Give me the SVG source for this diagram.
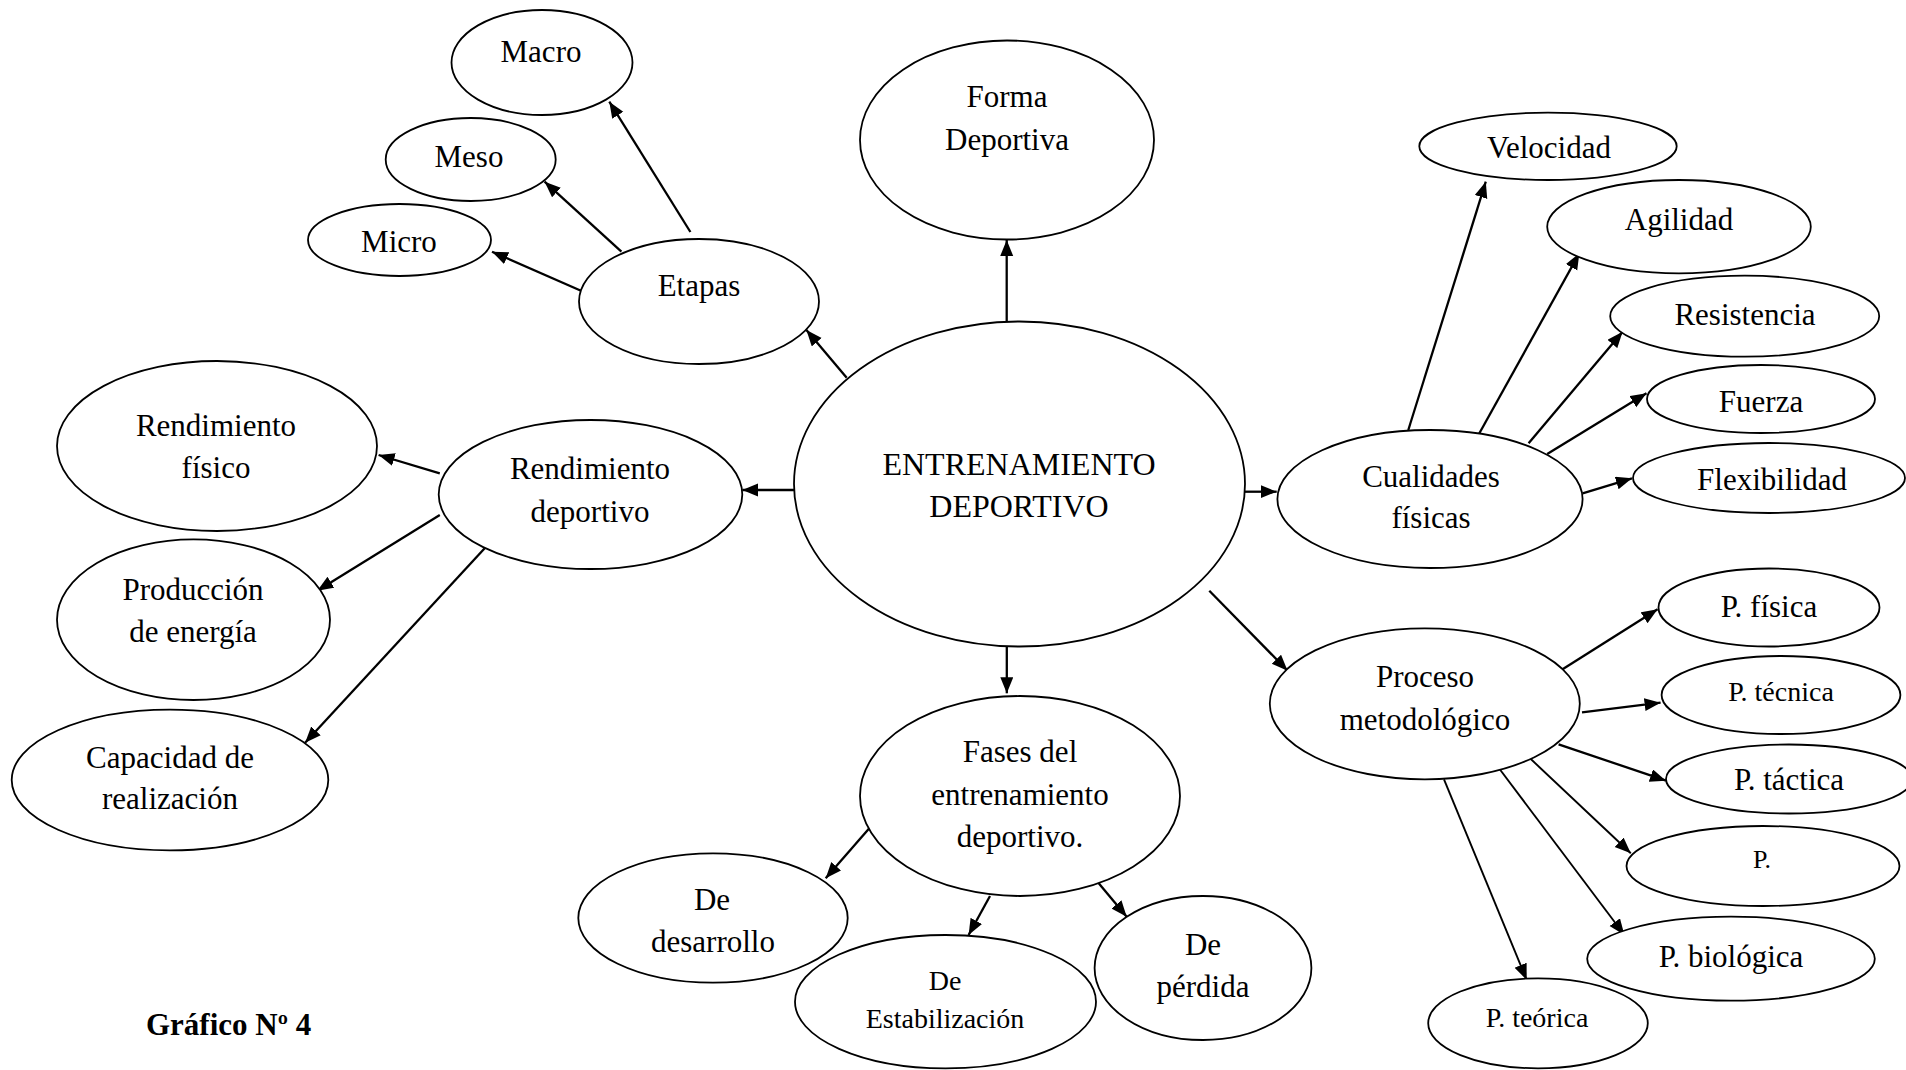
<svg xmlns="http://www.w3.org/2000/svg" width="1906" height="1070" viewBox="0 0 1906 1070">
<style>
.n ellipse{fill:#fff;stroke:#000;stroke-width:1.8}
text{font-family:"Liberation Serif","Times New Roman",serif;font-size:31px;fill:#000;text-anchor:middle}
.s{font-size:28px}
.xs{font-size:26px}
.big{font-size:32px}
#edges line{stroke:#000;stroke-width:2.3;marker-end:url(#ah)}
#edges line.t{stroke-width:1.9}
</style>
<defs>
<marker id="ah" markerUnits="userSpaceOnUse" markerWidth="18" markerHeight="14" refX="16" refY="6.5" orient="auto">
<path d="M0,0 L16,6.5 L0,13 z" fill="#000"/>
</marker>
</defs>
<rect width="1906" height="1070" fill="#fff"/>
<g id="edges">
<line x1="846.7" y1="377.7" x2="806.4" y2="330"/>
<line x1="690.4" y1="232" x2="609.3" y2="101.7"/>
<line x1="621.4" y1="251.7" x2="544.6" y2="181.7"/>
<line x1="581" y1="290.7" x2="492" y2="251.7"/>
<line x1="1006.7" y1="322" x2="1006.7" y2="240"/>
<line x1="794" y1="490" x2="742.3" y2="490"/>
<line x1="439.8" y1="473.3" x2="378.6" y2="455"/>
<line x1="439.8" y1="515" x2="317.3" y2="590.7"/>
<line x1="484.7" y1="548.3" x2="305.1" y2="742.7"/>
<line x1="1245" y1="491.7" x2="1276.7" y2="491.7"/>
<line x1="1408.3" y1="430" x2="1485.8" y2="181.7"/>
<line x1="1478.4" y1="435" x2="1579.3" y2="253.3"/>
<line x1="1528.6" y1="443.3" x2="1622.6" y2="331.7"/>
<line x1="1547.2" y1="454" x2="1646.5" y2="393.3"/>
<line x1="1582.6" y1="493.3" x2="1632" y2="478.3"/>
<line x1="1209.3" y1="590.7" x2="1287.6" y2="670.7"/>
<line x1="1558.6" y1="671.7" x2="1657.6" y2="609.3"/>
<line x1="1582" y1="712.3" x2="1660.6" y2="702.7"/>
<line x1="1558.6" y1="744.3" x2="1666" y2="780.7"/>
<line class="t" x1="1530" y1="758.3" x2="1630.8" y2="853.3"/>
<line class="t" x1="1499" y1="768.3" x2="1624.4" y2="935"/>
<line class="t" x1="1444" y1="779.3" x2="1526.7" y2="980"/>
<line x1="1006.8" y1="646.7" x2="1006.8" y2="693.3"/>
<line x1="870.6" y1="826.7" x2="825.7" y2="878.3"/>
<line x1="990" y1="896" x2="968.6" y2="935"/>
<line x1="1096" y1="880" x2="1126.7" y2="916.7"/>
</g>
<g id="center" class="n"><ellipse cx="1019.5" cy="484" rx="225.5" ry="162.5"/><text class="big" x="1019" y="475">ENTRENAMIENTO</text><text class="big" x="1019" y="517">DEPORTIVO</text></g>
<g id="forma" class="n"><ellipse cx="1007" cy="140" rx="147" ry="99.5"/><text x="1007" y="107">Forma</text><text x="1007" y="150">Deportiva</text></g>
<g id="etapas" class="n"><ellipse cx="699" cy="301.5" rx="120" ry="62.5"/><text x="699" y="296">Etapas</text></g>
<g id="macro" class="n"><ellipse cx="542" cy="62.5" rx="90.5" ry="52.5"/><text x="541" y="62">Macro</text></g>
<g id="meso" class="n"><ellipse cx="470.7" cy="159.5" rx="85" ry="41.5"/><text x="469" y="167">Meso</text></g>
<g id="micro" class="n"><ellipse cx="399.5" cy="240" rx="91.5" ry="36"/><text x="399" y="252">Micro</text></g>
<g id="rend-deportivo" class="n"><ellipse cx="590.5" cy="494.5" rx="151.8" ry="74.5"/><text x="590" y="479">Rendimiento</text><text x="590" y="522">deportivo</text></g>
<g id="rend-fisico" class="n"><ellipse cx="217" cy="446" rx="160" ry="85"/><text x="216" y="436">Rendimiento</text><text x="216" y="478">físico</text></g>
<g id="produccion" class="n"><ellipse cx="193.5" cy="619.7" rx="136.5" ry="80.3"/><text x="193" y="600">Producción</text><text x="193" y="642">de energía</text></g>
<g id="capacidad" class="n"><ellipse cx="170" cy="780" rx="158.3" ry="70.4"/><text x="170" y="768">Capacidad de</text><text x="170" y="809">realización</text></g>
<g id="cualidades" class="n"><ellipse cx="1430" cy="499" rx="152.6" ry="69"/><text x="1431" y="487">Cualidades</text><text x="1431" y="528">físicas</text></g>
<g id="velocidad" class="n"><ellipse cx="1548" cy="146.3" rx="128.7" ry="33.7"/><text x="1549" y="158">Velocidad</text></g>
<g id="agilidad" class="n"><ellipse cx="1679" cy="226.7" rx="131.8" ry="46.7"/><text x="1679" y="230">Agilidad</text></g>
<g id="resistencia" class="n"><ellipse cx="1744.7" cy="316.2" rx="134.5" ry="40.5"/><text x="1745" y="325">Resistencia</text></g>
<g id="fuerza" class="n"><ellipse cx="1761" cy="399" rx="114" ry="34"/><text x="1761" y="411.7">Fuerza</text></g>
<g id="flexibilidad" class="n"><ellipse cx="1769" cy="478" rx="136" ry="35"/><text x="1772" y="490">Flexibilidad</text></g>
<g id="proceso" class="n"><ellipse cx="1424.8" cy="703.8" rx="155" ry="75.5"/><text x="1425" y="687">Proceso</text><text x="1425" y="730">metodológico</text></g>
<g id="p-fisica" class="n"><ellipse cx="1769" cy="607.5" rx="110.5" ry="39"/><text x="1769" y="616.7">P. física</text></g>
<g id="p-tecnica" class="n"><ellipse cx="1781" cy="695" rx="119.4" ry="39"/><text class="s" x="1781" y="700.7">P. técnica</text></g>
<g id="p-tactica" class="n"><ellipse cx="1789" cy="779" rx="123" ry="34.5"/><text x="1789" y="790">P. táctica</text></g>
<g id="p" class="n"><ellipse cx="1763" cy="866" rx="136.5" ry="40"/><text class="xs" x="1762" y="868">P.</text></g>
<g id="p-biologica" class="n"><ellipse cx="1731" cy="958.7" rx="143.8" ry="42"/><text x="1731" y="966.7">P. biológica</text></g>
<g id="p-teorica" class="n"><ellipse cx="1538" cy="1023.3" rx="109.8" ry="45"/><text class="s" x="1537" y="1026.7">P. teórica</text></g>
<g id="fases" class="n"><ellipse cx="1020" cy="796" rx="160" ry="100"/><text x="1020" y="761.7">Fases del</text><text x="1020" y="805">entrenamiento</text><text x="1020" y="846.7">deportivo.</text></g>
<g id="desarrollo" class="n"><ellipse cx="713" cy="918" rx="134.7" ry="64.7"/><text x="712" y="910">De</text><text x="713" y="951.7">desarrollo</text></g>
<g id="estabilizacion" class="n"><ellipse cx="945.5" cy="1001.7" rx="150.5" ry="66.7"/><text class="s" x="945" y="990">De</text><text class="s" x="945" y="1028">Estabilización</text></g>
<g id="perdida" class="n"><ellipse cx="1203" cy="968" rx="108.4" ry="72"/><text x="1203" y="955">De</text><text x="1203" y="996.7">pérdida</text></g>
<text x="146" y="1035" style="text-anchor:start;font-weight:bold;font-size:31px">Gráfico Nº 4</text>
</svg>
